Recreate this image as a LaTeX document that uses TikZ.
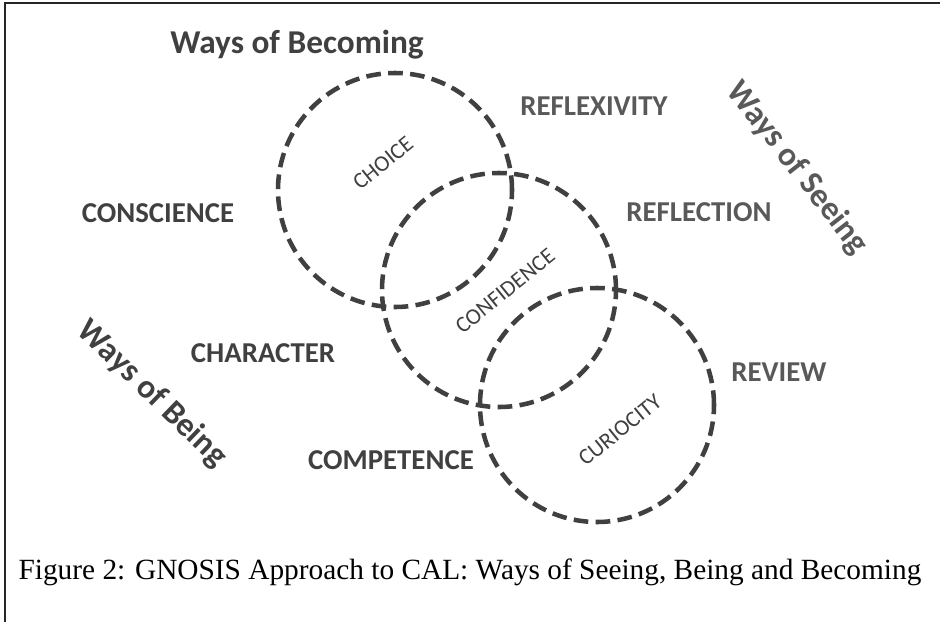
\documentclass[tikz,border=0pt]{standalone}
\usepackage{fontspec}
\setmainfont{Liberation Serif}
\newfontfamily\labelfont{Carlito}
\usetikzlibrary{positioning}
\definecolor{ringgray}{HTML}{404040}
\definecolor{darktext}{HTML}{404040}
\definecolor{lighttext}{HTML}{595959}

\begin{document}
\begin{tikzpicture}[
  x=0.75pt, y=-0.75pt,
  ring/.style={draw=ringgray, circle, minimum size=175.5pt, inner sep=0pt,
    line width=3.4pt, dash pattern=on 11pt off 5.5pt},
  term/.style={font=\labelfont\bfseries\fontsize{21.6}{24}\selectfont, inner sep=0pt},
  inner/.style={font=\labelfont\fontsize{17}{19}\selectfont, darktext,
    inner sep=0pt, rotate=39},
  ways/.style={font=\labelfont\bfseries\fontsize{25}{28}\selectfont, inner sep=0pt}
]
  \useasboundingbox (0,0) rectangle (940,622);

  % Frame
  \draw[line width=1.5pt, black!85] (5,622) -- (5,3) -- (940,3);

  % Circles
  \node[ring] (choicering) at (395,190) {};
  \node[ring] (confring) at (499,290) {};
  \node[ring] (curioring) at (597,405) {};

  % Circle labels
  \node[inner] (choice) at (383,163) {CHOICE};
  \node[inner] (confidence) at (505,291) {CONFIDENCE};
  \node[inner] (curiocity) at (620,430) {CURIOCITY};

  % Terms
  \node[term, darktext] (conscience) at (158,213) {CONSCIENCE};
  \node[term, darktext] (character) at (263,353) {CHARACTER};
  \node[term, darktext] (competence) at (391,460) {COMPETENCE};
  \node[term, lighttext] (reflexivity) at (594,106) {REFLEXIVITY};
  \node[term, lighttext] (reflection) at (699,212) {REFLECTION};
  \node[term, lighttext] (review) at (779,372) {REVIEW};

  % Ways
  \node[ways, darktext] (becoming) at (297,45) {Ways of Becoming};
  \node[ways, lighttext, rotate=-52] (seeing) at (797,168) {Ways of Seeing};
  \node[ways, darktext, rotate=-44] (being) at (152,394) {Ways of Being};

  % Caption
  \node[font=\fontsize{22}{25}\selectfont, inner sep=0pt] (caption) at (470,572)
    {Figure 2: GNOSIS Approach to CAL: Ways of Seeing, Being and Becoming};
\end{tikzpicture}
\end{document}
